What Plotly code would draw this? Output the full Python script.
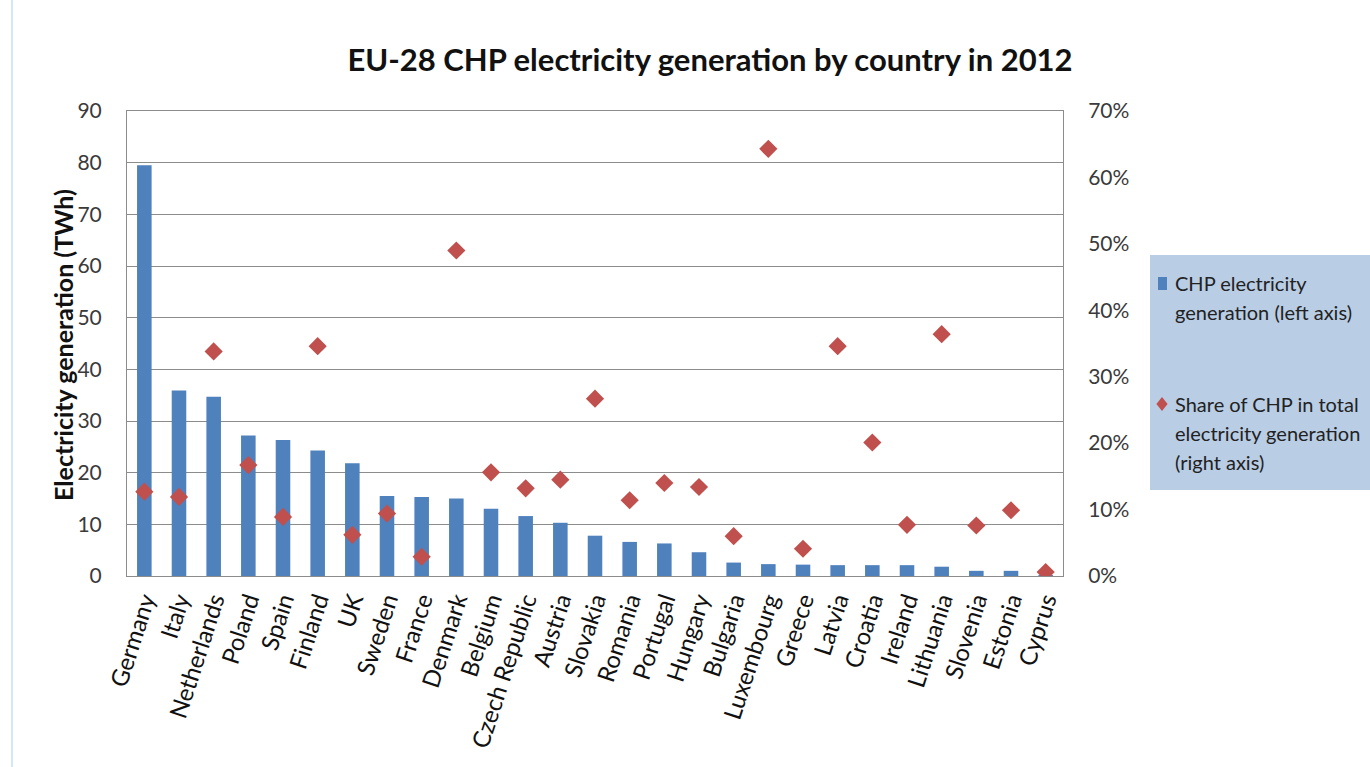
import plotly.graph_objects as go

countries = ["Germany", "Italy", "Netherlands", "Poland", "Spain", "Finland", "UK",
             "Sweden", "France", "Denmark", "Belgium", "Czech Republic", "Austria",
             "Slovakia", "Romania", "Portugal", "Hungary", "Bulgaria", "Luxembourg",
             "Greece", "Latvia", "Croatia", "Ireland", "Lithuania", "Slovenia",
             "Estonia", "Cyprus"]
chp_twh = [79.5, 35.9, 34.7, 27.2, 26.3, 24.3, 21.8, 15.5, 15.3, 15.0, 13.0, 11.6,
           10.3, 7.8, 6.6, 6.3, 4.6, 2.6, 2.3, 2.2, 2.1, 2.1, 2.1, 1.8, 1.0, 1.0, 0.1]
chp_share = [12.7, 11.9, 33.8, 16.7, 8.9, 34.6, 6.2, 9.4, 2.9, 49.0, 15.6, 13.2,
             14.5, 26.7, 11.4, 14.0, 13.4, 6.0, 64.3, 4.1, 34.6, 20.1, 7.7, 36.4,
             7.6, 9.9, 0.6]
left_ticks = [0, 10, 20, 30, 40, 50, 60, 70, 80, 90]
right_ticks = [0, 10, 20, 30, 40, 50, 60, 70]

bar_label = ["CHP electricity", "generation (left axis)"]
dot_label = ["Share of CHP in total", "electricity generation", "(right axis)"]

FONT = "Lato"
TXT = "#3a3a3a"
BAR_C = "#4f81bd"
DOT_C = "#c0504d"

W, H = 1370, 767
ML, MR, MT, MB = 127, 307, 111, 191
PW, PH = W - ML - MR, H - MT - MB


def px(x):
    """pixel x -> paper x"""
    return (x - ML) / PW


def py(y):
    """pixel y (from top) -> paper y"""
    return (H - MB - y) / PH


fig = go.Figure()
fig.add_trace(go.Bar(
    x=countries, y=chp_twh, name=" ".join(bar_label),
    marker=dict(color=BAR_C, line=dict(width=0)), width=0.42, yaxis="y",
))
fig.add_trace(go.Scatter(
    x=countries, y=chp_share, mode="markers", name=" ".join(dot_label),
    marker=dict(symbol="diamond", size=14, color=DOT_C), yaxis="y2",
))

fig.update_layout(
    width=W, height=H,
    margin=dict(l=ML, r=MR, t=MT, b=MB),
    paper_bgcolor="white", plot_bgcolor="white",
    font=dict(family=FONT, color=TXT, size=20),
    showlegend=False,
    title=dict(text="<b>EU-28 CHP electricity generation by country in 2012</b>",
               xref="container", yref="container",
               x=710 / W, xanchor="center", y=1 - 60 / H, yanchor="middle",
               font=dict(size=31, color="#111111", family=FONT)),
    xaxis=dict(tickangle=-72, tickfont=dict(size=24, color="#111111"),
               range=[-0.5, len(countries) - 0.5],
               showline=True, linecolor="#8c8c8c", mirror=True, ticks="",
               showgrid=False, automargin=False),
    yaxis=dict(range=[0, 90], tickvals=left_ticks, showgrid=True,
               gridcolor="#8c8c8c", gridwidth=1, zeroline=False,
               showline=True, linecolor="#8c8c8c", automargin=False,
               tickfont=dict(size=21, color=TXT), ticks="outside",
               ticklen=20, tickcolor="white"),
    yaxis2=dict(range=[0, 70], tickvals=right_ticks,
                ticktext=[f"{v}%" for v in right_ticks],
                overlaying="y", side="right", showgrid=False, zeroline=False,
                showline=True, linecolor="#8c8c8c", automargin=False,
                tickfont=dict(size=21, color=TXT), ticks="outside",
                ticklen=20, tickcolor="white"),
)

# left axis title
fig.add_annotation(text="<b>Electricity generation (TWh)</b>", textangle=-90,
                   xref="paper", yref="paper", x=px(63), y=py(345),
                   xanchor="center", yanchor="middle", showarrow=False,
                   font=dict(size=25, color="#111111", family=FONT))

# legend box
fig.add_shape(type="rect", xref="paper", yref="paper",
              x0=px(1150), x1=px(1380), y0=py(490), y1=py(255),
              fillcolor="#b9cde5", line=dict(width=0), layer="below")
# bar swatch
fig.add_shape(type="rect", xref="paper", yref="paper",
              x0=px(1158), x1=px(1167), y0=py(290), y1=py(277),
              fillcolor=BAR_C, line=dict(width=0))
# diamond swatch
cx, cy, r = 1162, 404, 7
fig.add_shape(type="path", xref="paper", yref="paper",
              path=(f"M {px(cx)} {py(cy - r)} L {px(cx + r * 0.8)} {py(cy)} "
                    f"L {px(cx)} {py(cy + r)} L {px(cx - r * 0.8)} {py(cy)} Z"),
              fillcolor=DOT_C, line=dict(width=0))

for i, line in enumerate(bar_label):
    fig.add_annotation(text=line, xref="paper", yref="paper",
                       x=px(1173), y=py(283 + i * 29), xanchor="left",
                       yanchor="middle", showarrow=False,
                       font=dict(size=20, color="#222222", family=FONT))
for i, line in enumerate(dot_label):
    fig.add_annotation(text=line, xref="paper", yref="paper",
                       x=px(1173), y=py(404 + i * 29), xanchor="left",
                       yanchor="middle", showarrow=False,
                       font=dict(size=20, color="#222222", family=FONT))

# thin page border line on the left
fig.add_shape(type="line", xref="paper", yref="paper",
              x0=px(12), x1=px(12), y0=py(H + 5), y1=py(-5),
              line=dict(color="#c5dff0", width=1.5))

fig.write_html("out.html")
